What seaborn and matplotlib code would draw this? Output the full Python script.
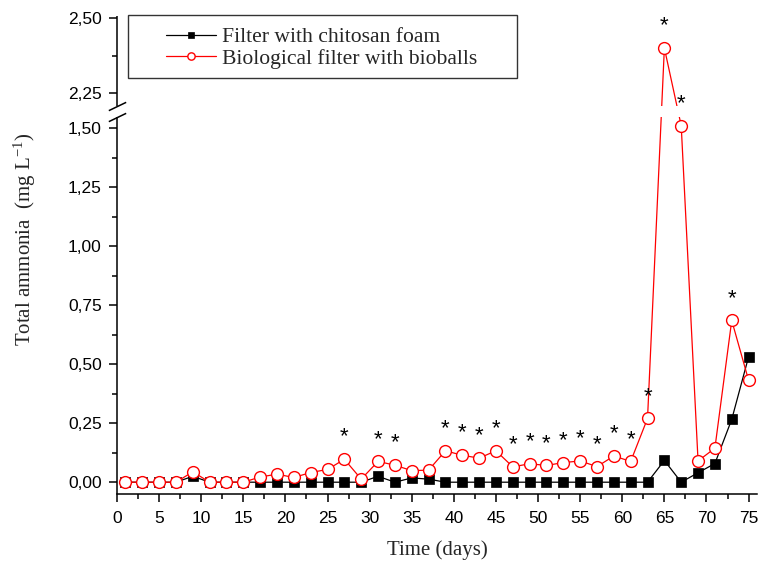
import numpy as np
import matplotlib
matplotlib.use("Agg")
import matplotlib.pyplot as plt
from matplotlib.ticker import FixedLocator, FuncFormatter, NullFormatter
from matplotlib.patches import Rectangle
import seaborn as sns

# Sampling days
days = [1, 3, 5, 7, 9, 11, 13, 15, 17, 19, 21, 23, 25, 27, 29, 31, 33, 35, 37,
        39, 41, 43, 45, 47, 49, 51, 53, 55, 57, 59, 61, 63, 65, 67, 69, 71, 73, 75]

# Total ammonia (mg/L) for each filter
chitosan_foam = [0, 0, 0, 0, 0.025, 0, 0, 0, 0, 0, 0, 0, 0, 0, 0, 0.025, 0, 0.018, 0.013,
                 0, 0, 0, 0, 0, 0, 0, 0, 0, 0, 0, 0, 0, 0.092, 0, 0.040, 0.079, 0.266, 0.531]
bioballs = [0, 0, 0, 0, 0.044, 0, 0, 0, 0.022, 0.034, 0.020, 0.041, 0.054, 0.097, 0.013,
            0.088, 0.072, 0.049, 0.051, 0.133, 0.114, 0.102, 0.133, 0.065, 0.078, 0.071,
            0.083, 0.090, 0.066, 0.111, 0.088, 0.270, 2.400, 1.510, 0.090, 0.144, 0.685, 0.432]

# Days with a significant difference between filters
significant_days = [27, 31, 33, 39, 41, 43, 45, 47, 49, 51, 53, 55, 57, 59, 61, 63, 65, 67, 73]

series_labels = ["Filter with chitosan foam", "Biological filter with bioballs"]
x_major = [0, 5, 10, 15, 20, 25, 30, 35, 40, 45, 50, 55, 60, 65, 70, 75]
x_minor = [2.5, 7.5, 12.5, 17.5, 22.5, 27.5, 32.5, 37.5, 42.5, 47.5, 52.5, 57.5, 62.5, 67.5, 72.5]
y_major = [0.0, 0.25, 0.5, 0.75, 1.0, 1.25, 1.5, 2.25, 2.5]
y_minor = [0.125, 0.375, 0.625, 0.875, 1.125, 1.375, 2.375]

sns.set_style("ticks")
plt.rcParams.update({
    "font.family": ["Liberation Sans", "DejaVu Sans"],
    "mathtext.fontset": "stix",
    "axes.linewidth": 1.1,
})
SERIF = ["Liberation Serif", "DejaVu Serif"]

# Broken y axis: a lower range and a compressed upper range joined by a small gap
Y_MIN, LOW_TOP, HIGH_BOTTOM, Y_MAX = -0.05, 1.5466, 2.2067, 2.5067
GAP = 0.0466
K = 300.0 / 236.0


def forward(y):
    y = np.asarray(y, dtype=float)
    mid = LOW_TOP + (y - LOW_TOP) * GAP / (HIGH_BOTTOM - LOW_TOP)
    high = LOW_TOP + GAP + (y - HIGH_BOTTOM) * K
    return np.where(y <= LOW_TOP, y, np.where(y >= HIGH_BOTTOM, high, mid))


def inverse(u):
    u = np.asarray(u, dtype=float)
    mid = LOW_TOP + (u - LOW_TOP) * (HIGH_BOTTOM - LOW_TOP) / GAP
    high = HIGH_BOTTOM + (u - LOW_TOP - GAP) / K
    return np.where(u <= LOW_TOP, u, np.where(u >= LOW_TOP + GAP, high, mid))


fig = plt.figure(figsize=(7.7, 5.65), dpi=100)
ax = fig.add_axes([117 / 770, 71 / 565, 640 / 770, 478 / 565])

sns.lineplot(x=days, y=chitosan_foam, ax=ax, color="black", linewidth=0.9,
             marker="s", markersize=7.5, markerfacecolor="black", markeredgecolor="black",
             markeredgewidth=0.5, label=series_labels[0], zorder=2)
sns.lineplot(x=days, y=bioballs, ax=ax, color="#ff0000", linewidth=0.9,
             marker="o", markersize=8.5, markerfacecolor="white", markeredgecolor="#ff0000",
             markeredgewidth=1.0, label=series_labels[1], zorder=2.1)

ax.set_yscale("function", functions=(forward, inverse))
ax.set_xlim(0, 76)
ax.set_ylim(Y_MIN, Y_MAX)

# white band hides the lines inside the axis break
ax.axhspan(LOW_TOP, HIGH_BOTTOM, color="white", zorder=3, lw=0)

# significance markers above the bioball series
for d, v in zip(days, bioballs):
    if d in significant_days:
        ax.annotate("*", xy=(d, v), xytext=(0, 16), textcoords="offset points",
                    ha="center", va="center", fontsize=16,
                    color="black", zorder=5, annotation_clip=False)

# ticks
ax.xaxis.set_major_locator(FixedLocator(x_major))
ax.xaxis.set_minor_locator(FixedLocator(x_minor))
ax.yaxis.set_major_locator(FixedLocator(y_major))
ax.yaxis.set_minor_locator(FixedLocator(y_minor))
ax.yaxis.set_major_formatter(FuncFormatter(lambda v, p: f"{v:.2f}".replace(".", ",")))
ax.yaxis.set_minor_formatter(NullFormatter())
ax.tick_params(which="major", direction="out", length=6, width=1.1, labelsize=12.5,
               color="black", labelcolor="black")
ax.tick_params(which="minor", direction="out", length=3.5, width=1.1, color="black")
ax.tick_params(axis="x", which="major", pad=6)
ax.tick_params(axis="y", which="major", pad=5)

for side in ("top", "right", "left"):
    ax.spines[side].set_visible(False)
ax.spines["bottom"].set_color("black")

# left spine in two pieces with break marks
yax = ax.get_yaxis_transform()
ax.plot([0, 0], [Y_MIN, LOW_TOP], transform=yax, color="black", lw=1.1,
        clip_on=False, zorder=6, solid_capstyle="butt")
ax.plot([0, 0], [HIGH_BOTTOM, Y_MAX], transform=yax, color="black", lw=1.1,
        clip_on=False, zorder=6, solid_capstyle="butt")
ax.plot([0, 0], [LOW_TOP, HIGH_BOTTOM], transform=yax, linestyle="none",
        marker=[(-1, -0.48), (1, 0.48)], markersize=12.5, markeredgewidth=1.1,
        color="black", clip_on=False, zorder=6)

# legend with its own frame
handles, labels = ax.get_legend_handles_labels()
leg = ax.legend(handles, labels, loc="upper left",
                bbox_to_anchor=(166 / 770, 1 - 27 / 565), bbox_transform=fig.transFigure,
                frameon=False, prop={"family": SERIF, "size": 15.6}, markerscale=0.62,
                handlelength=2.3, handletextpad=0.3, labelspacing=0.08,
                borderpad=0, borderaxespad=0)
fig.add_artist(Rectangle((128 / 770, 1 - 78 / 565), (517 - 128) / 770, (78 - 15) / 565,
                         transform=fig.transFigure, fill=False, edgecolor="#333333",
                         lw=1.0, zorder=10))

ax.set_xlabel("")
ax.set_ylabel("")
fig.text(437 / 770, 1 - 550 / 565, "Time (days)", ha="center", va="center",
         family=SERIF, fontsize=15)
fig.text(25 / 770, 1 - 239 / 565, r"Total ammonia  (mg L$^{\mathregular{-1}}$)",
         rotation=90, ha="center", va="center", family=SERIF, fontsize=15)

fig.savefig("out.png", dpi=100, facecolor="white")
